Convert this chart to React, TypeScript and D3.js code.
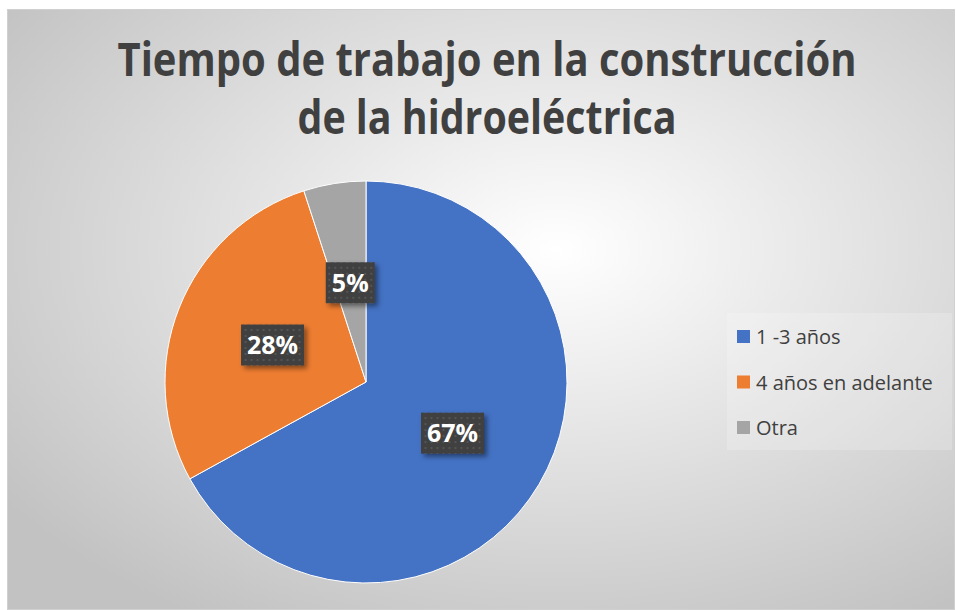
import React from "react";
import * as d3 from "d3";

// data
const categories = ["1 -3 años", "4 años en adelante", "Otra"];
const values = [67, 28, 5];
const colors = ["#4472c4", "#ed7d31", "#a5a5a5"];
const titleLines = ["Tiempo de trabajo en la construcción", "de la hidroeléctrica"];

const W = 956;
const H = 610;

export default function App() {
  const cx = 366, cy = 382, r = 201;

  const pie = d3.pie<number>().sort(null).value(d => d);
  const arcs = pie(values);
  const arc = d3.arc<d3.PieArcDatum<number>>().innerRadius(0).outerRadius(r);

  const total = d3.sum(values);
  const fmt = (v: number) => Math.round((v / total) * 100) + "%";

  const legendY = d3.scalePoint<string>()
    .domain(categories)
    .range([337, 428]);

  return (
    <svg width={W} height={H} style={{position: "absolute", left: 0, top: 0}}
      fontFamily="'Open Sans', sans-serif">
      <defs>
        <radialGradient id="bg" cx="58%" cy="40%" r="72%">
          <stop offset="0%" stopColor="#ffffff" />
          <stop offset="100%" stopColor="#c2c2c2" />
        </radialGradient>
        <pattern id="dots" width="6" height="6" patternUnits="userSpaceOnUse">
          <rect width="6" height="6" fill="#3f3f3f" />
          <rect x="2" y="2" width="2" height="2" fill="#555555" />
        </pattern>
        <filter id="shadow" x="-30%" y="-30%" width="160%" height="160%">
          <feDropShadow dx="3" dy="3" stdDeviation="2.5" floodColor="#000" floodOpacity="0.45" />
        </filter>
      </defs>

      <rect x={7.5} y={9.5} width={947} height={600} fill="url(#bg)" stroke="#d0d0d0" />

      <text x={487} textAnchor="middle" fill="#404040" fontWeight={700} fontSize={46}>
        <tspan x={487} y={76} textLength={739} lengthAdjust="spacingAndGlyphs">{titleLines[0]}</tspan>
        <tspan x={487} y={134} textLength={379} lengthAdjust="spacingAndGlyphs">{titleLines[1]}</tspan>
      </text>

      <g transform={`translate(${cx},${cy})`}>
        {arcs.map((a, i) => (
          <path key={i} d={arc(a) || ""} fill={colors[i]} stroke="#ffffff" strokeWidth={1} />
        ))}
        {arcs.map((a, i) => {
          const [lx, ly] = arc.centroid(a);
          const label = fmt(a.value);
          const bw = label.length === 2 ? 49 : 63;
          const bh = 41;
          return (
            <g key={"l" + i} transform={`translate(${lx},${ly})`}>
              <rect x={-bw / 2} y={-bh / 2} width={bw} height={bh} fill="url(#dots)" filter="url(#shadow)" />
              <text y={9} textAnchor="middle" fill="#ffffff" fontWeight={700} fontSize={25}>{label}</text>
            </g>
          );
        })}
      </g>

      <rect x={727} y={313} width={225} height={137} fill="#ffffff" fillOpacity={0.2} />
      {categories.map((c, i) => (
        <g key={c} transform={`translate(737,${legendY(c)})`}>
          <rect x={0} y={-7} width={13} height={13} fill={colors[i]} />
          <text x={19} y={7} fill="#404040" fontSize={20}>{c}</text>
        </g>
      ))}
    </svg>
  );
}
